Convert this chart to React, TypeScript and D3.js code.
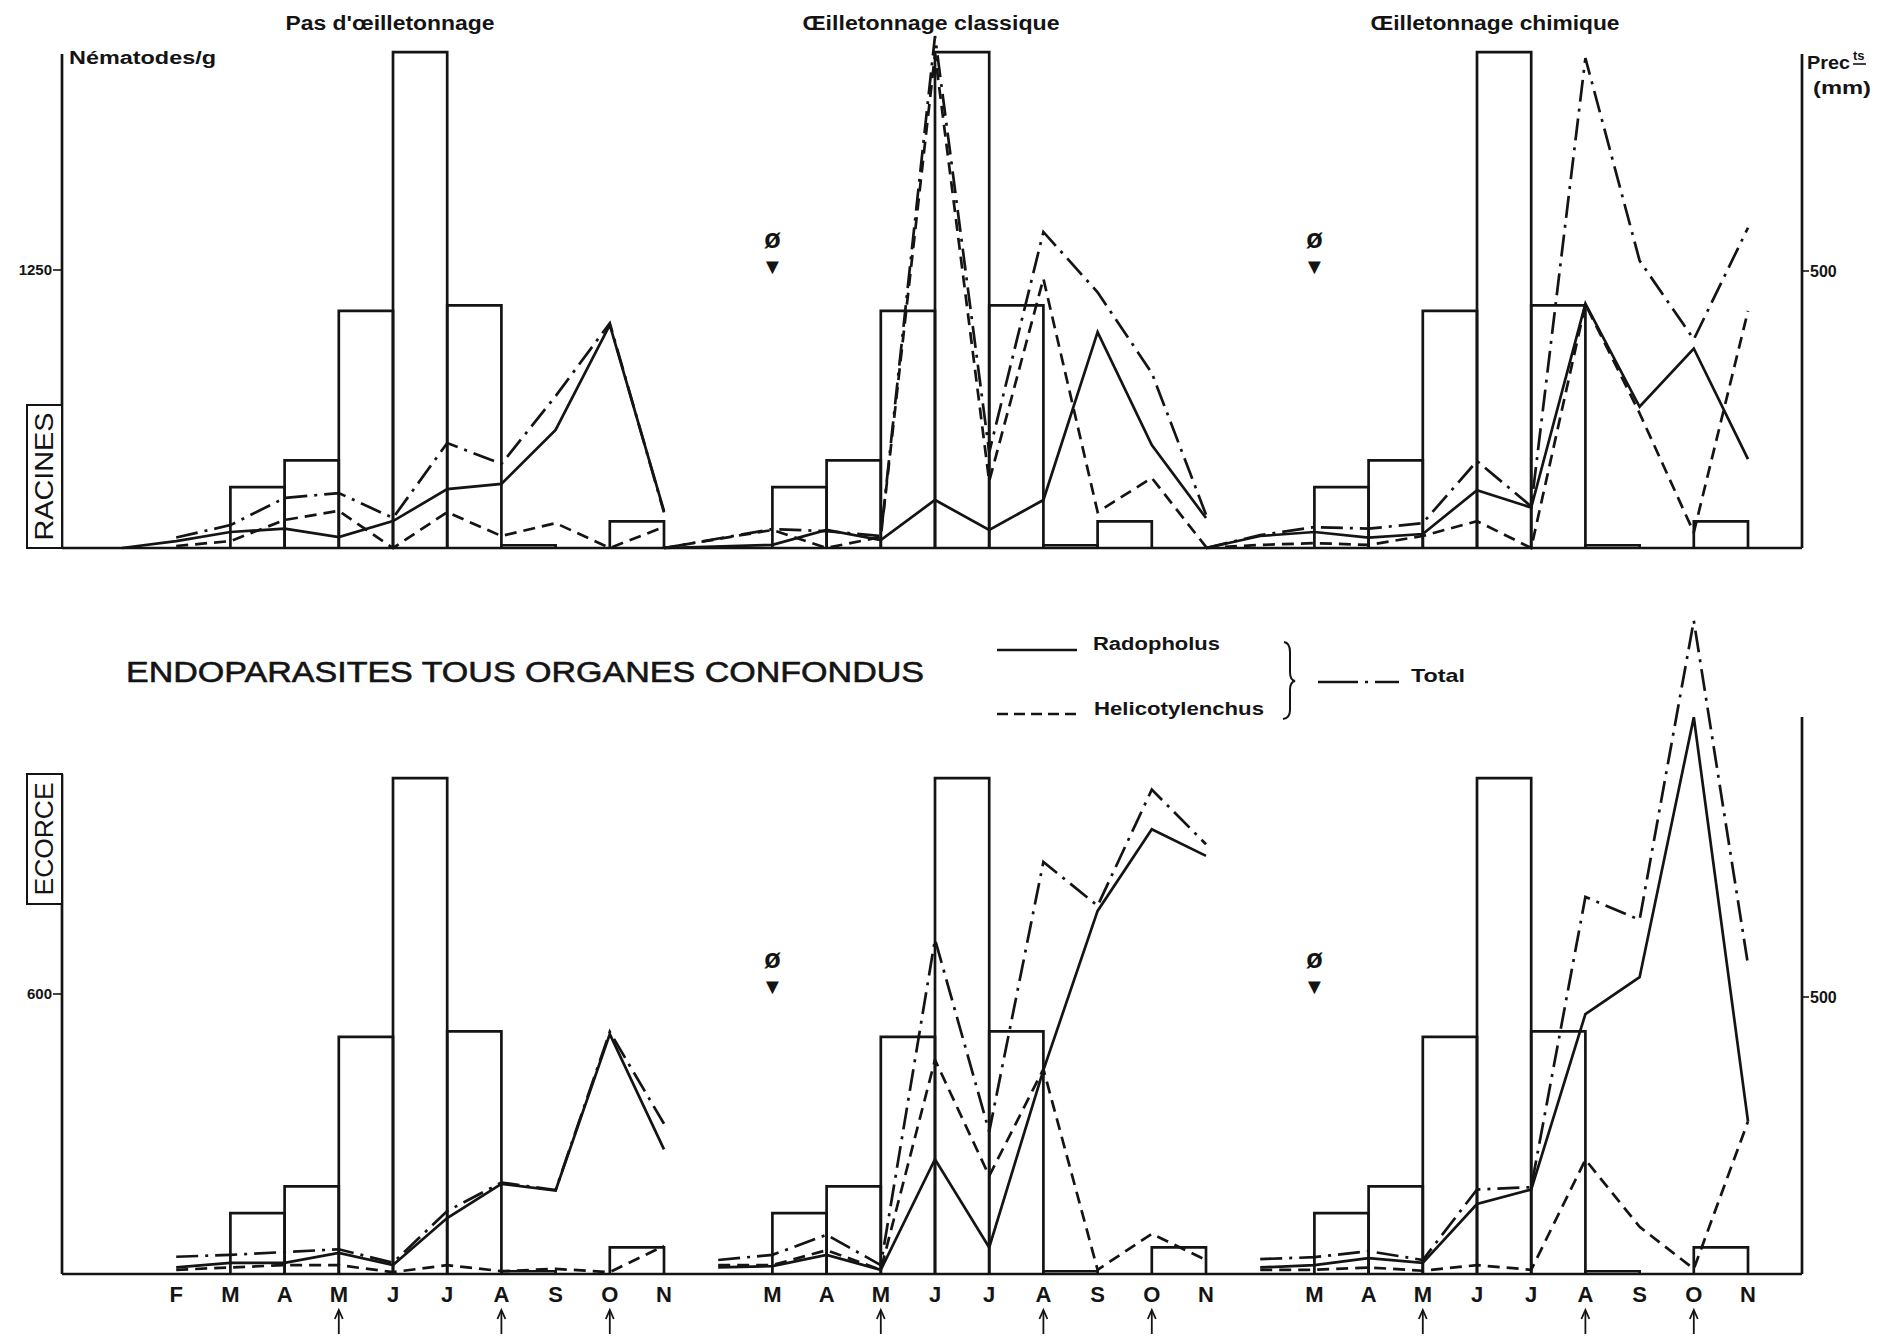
import React from 'react';
import * as d3 from 'd3';

// ---------- DATA ----------
const MONTHS = ['J', 'F', 'M', 'A', 'M', 'J', 'J', 'A', 'S', 'O', 'N'];
const PANEL_TITLES = ["Pas d'œilletonnage", 'Œilletonnage classique', 'Œilletonnage chimique'];
const FIRST_LABEL = [1, 2, 2];
const ARROW_MONTHS = [4, 7, 9];
const MARKED_PANELS = [1, 2]; // panels with the ø ▼ marker (above month M)

// precipitation (mm), bar i spans month i -> month i+1
const PRECIP_MM = [null, null, 110, 158, 428, 895, 438, 5, 0, 48];
const PRECIP_MM_CLASSIQUE_RACINES = [null, null, 110, 158, 428, 895, 438, 5, 48, 0];

// RACINES (Nématodes/g)
const RAC_RADO_PAS = [0, 31, 72, 87, 49, 121, 265, 288, 531, 1003, 166];
const RAC_HELI_PAS = [null, 9, 31, 126, 167, 0, 161, 54, 112, 0, 95];
const RAC_TOT_PAS = [null, 47, 103, 225, 247, 135, 472, 378, 683, 1011, 160];

const RAC_RADO_CLA = [0, null, 14, 81, 36, 216, 81, 216, 971, 463, 135];
const RAC_HELI_CLA = [0, null, 81, 0, 50, 2220, 300, 1211, 162, 315, 5];
const RAC_TOT_CLA = [0, null, 85, 76, 54, 2302, 430, 1421, 1150, 787, 150];

const RAC_RADO_CHI = [0, 54, 72, 47, 63, 260, 182, 1099, 635, 897, 400];
const RAC_HELI_CHI = [0, 14, 22, 14, 54, 121, 0, 1096, 606, 70, 1066];
const RAC_TOT_CHI = [0, 58, 94, 87, 112, 391, 187, 2203, 1292, 938, 1440];

// ECORCE (Nématodes/g)
const ECO_RADO_PAS = [null, 14, 24, 24, 45, 19, 120, 193, 179, 514, 267];
const ECO_HELI_PAS = [null, 9, 14, 19, 19, 4, 19, 6, 11, 4, 60];
const ECO_TOT_PAS = [null, 37, 41, 47, 53, 24, 135, 196, 180, 519, 322];

const ECO_RADO_CLA = [null, 14, 17, 41, 9, 246, 57, 437, 778, 953, 896];
const ECO_HELI_CLA = [null, 19, 19, 51, 9, 459, 210, 439, 9, 86, 30];
const ECO_TOT_CLA = [null, 30, 41, 84, 19, 717, 305, 883, 789, 1038, 921];

const ECO_RADO_CHI = [null, 14, 19, 34, 24, 150, 181, 557, 636, 1193, 327];
const ECO_HELI_CHI = [null, 9, 9, 14, 7, 19, 9, 245, 101, 11, 327];
const ECO_TOT_CHI = [null, 32, 36, 49, 30, 181, 186, 808, 759, 1400, 663];

const LEFT_TICK_TOP = [1250];
const LEFT_TICK_BOT = [600];
const RIGHT_TICK = [500];

const LEGEND_LABELS = ['Radopholus', 'Helicotylenchus', 'Total'];
const MAIN_TITLE = 'ENDOPARASITES TOUS ORGANES CONFONDUS';

// ---------- LAYOUT ----------
const W = 1888;
const H = 1339;
const INK = '#141414';
const FONT = '"Liberation Sans", Arial, Helvetica, sans-serif';
const SW = 2.7;
const DASH = '12,7';
const DASHDOT = '22,7,3,7';

const AXIS_L = 62;
const AXIS_R = 1802;
const TOP_BASE = 548;
const BOT_BASE = 1274;

const x = d3.scaleLinear().domain([0, 30]).range([122, 1748]);
const slot = (p: number, i: number) => x(p * 10 + i);

const yTop = d3.scaleLinear().domain([0, 1250]).range([TOP_BASE, 270]);
const yBot = d3.scaleLinear().domain([0, 600]).range([BOT_BASE, 994]);
const pTop = d3.scaleLinear().domain([0, 500]).range([TOP_BASE, TOP_BASE - 277]);
const pBot = d3.scaleLinear().domain([0, 500]).range([BOT_BASE, BOT_BASE - 277]);

type Series = (number | null)[];

function SeriesPath({ p, values, y, dash }: { p: number; values: Series; y: d3.ScaleLinear<number, number>; dash?: string }) {
  const pts = values
    .map((v, i) => ({ i, v }))
    .filter((d) => d.v !== null) as { i: number; v: number }[];
  const line = d3
    .line<{ i: number; v: number }>()
    .x((d) => slot(p, d.i))
    .y((d) => y(d.v));
  return (
    <path
      d={line(pts) || ''}
      fill="none"
      stroke={INK}
      strokeWidth={SW}
      strokeDasharray={dash}
      strokeLinejoin="miter"
      strokeLinecap="butt"
    />
  );
}

function Bars({ p, data, y, base }: { p: number; data: (number | null)[]; y: d3.ScaleLinear<number, number>; base: number }) {
  return (
    <g>
      {data.map((v, i) => {
        if (v === null || v <= 0) return null;
        const x0 = slot(p, i);
        const x1 = slot(p, i + 1);
        const yt = y(v);
        return (
          <path
            key={i}
            d={`M${x0},${base} L${x0},${yt} L${x1},${yt} L${x1},${base}`}
            fill="none"
            stroke={INK}
            strokeWidth={SW}
          />
        );
      })}
    </g>
  );
}

const RAC = [
  [RAC_RADO_PAS, RAC_HELI_PAS, RAC_TOT_PAS],
  [RAC_RADO_CLA, RAC_HELI_CLA, RAC_TOT_CLA],
  [RAC_RADO_CHI, RAC_HELI_CHI, RAC_TOT_CHI],
];
const ECO = [
  [ECO_RADO_PAS, ECO_HELI_PAS, ECO_TOT_PAS],
  [ECO_RADO_CLA, ECO_HELI_CLA, ECO_TOT_CLA],
  [ECO_RADO_CHI, ECO_HELI_CHI, ECO_TOT_CHI],
];
const PRECIP_TOP = [PRECIP_MM, PRECIP_MM_CLASSIQUE_RACINES, PRECIP_MM];
const DASHES = [undefined, DASH, DASHDOT];

export default function App() {
  const titleCenters = [390, 931, 1495];
  const titleWidths = [209, 257, 249];
  return (
    <svg
      width={W}
      height={H}
      viewBox={`0 0 ${W} ${H}`}
      style={{ position: 'absolute', left: 0, top: 0, background: '#fff' }}
      fontFamily={FONT}
    >
      <rect x={0} y={0} width={W} height={H} fill="#fff" />

      {/* Panel titles */}
      {PANEL_TITLES.map((t, i) => (
        <text
          key={t}
          x={titleCenters[i] - titleWidths[i] / 2}
          y={30}
          fontSize={20}
          fontWeight="bold"
          fill={INK}
          textLength={titleWidths[i]}
          lengthAdjust="spacingAndGlyphs"
        >
          {t}
        </text>
      ))}

      {/* ---------- TOP (RACINES) ---------- */}
      <g>
        <line x1={AXIS_L} x2={AXIS_L} y1={54} y2={TOP_BASE} stroke={INK} strokeWidth={SW} />
        <line x1={AXIS_L} x2={AXIS_R} y1={TOP_BASE} y2={TOP_BASE} stroke={INK} strokeWidth={SW} />
        <line x1={AXIS_R} x2={AXIS_R} y1={54} y2={TOP_BASE} stroke={INK} strokeWidth={SW} />
        {LEFT_TICK_TOP.map((t) => (
          <g key={t}>
            <line x1={AXIS_L - 9} x2={AXIS_L} y1={yTop(t)} y2={yTop(t)} stroke={INK} strokeWidth={1.6} />
            <text x={AXIS_L - 10} y={yTop(t) + 5} textAnchor="end" fontSize={15} fontWeight="bold" fill={INK}>
              {t}
            </text>
          </g>
        ))}
        {RIGHT_TICK.map((t) => (
          <g key={t}>
            <line x1={AXIS_R} x2={AXIS_R + 7} y1={pTop(t)} y2={pTop(t)} stroke={INK} strokeWidth={1.6} />
            <text x={AXIS_R + 8} y={pTop(t) + 6} fontSize={16} fontWeight="bold" fill={INK}>
              {t}
            </text>
          </g>
        ))}
        <text x={69} y={64} fontSize={18} fontWeight="bold" fill={INK} textLength={147} lengthAdjust="spacingAndGlyphs">
          Nématodes/g
        </text>
        <text x={1807} y={69} fontSize={19} fontWeight="bold" fill={INK} textLength={43} lengthAdjust="spacingAndGlyphs">
          Prec
        </text>
        <text x={1853} y={60} fontSize={13} fontWeight="bold" fill={INK}>
          ts
        </text>
        <line x1={1853} x2={1866} y1={64} y2={64} stroke={INK} strokeWidth={1.6} />
        <text x={1813} y={94} fontSize={18} fontWeight="bold" fill={INK} textLength={58} lengthAdjust="spacingAndGlyphs">
          (mm)
        </text>

        <rect x={27} y={405} width={35} height={TOP_BASE - 405} fill="#fff" stroke={INK} strokeWidth={2} />
        <text
          transform={`translate(53,${(405 + TOP_BASE) / 2}) rotate(-90)`}
          textAnchor="middle"
          fontSize={25}
          fill={INK}
          textLength={128}
          lengthAdjust="spacingAndGlyphs"
        >
          RACINES
        </text>

        {[0, 1, 2].map((p) => (
          <g key={p}>
            <Bars p={p} data={PRECIP_TOP[p]} y={pTop} base={TOP_BASE} />
            {RAC[p].map((s, k) => (
              <SeriesPath key={k} p={p} values={s} y={yTop} dash={DASHES[k]} />
            ))}
          </g>
        ))}
      </g>

      {/* ---------- MIDDLE: title + legend ---------- */}
      <text
        x={126}
        y={682}
        fontSize={30}
        fill={INK}
        stroke={INK}
        strokeWidth={0.6}
        textLength={798}
        lengthAdjust="spacingAndGlyphs"
      >
        {MAIN_TITLE}
      </text>
      <line x1={997} x2={1077} y1={650} y2={650} stroke={INK} strokeWidth={SW} />
      <text x={1093} y={650} fontSize={18} fontWeight="bold" fill={INK} textLength={127} lengthAdjust="spacingAndGlyphs">
        {LEGEND_LABELS[0]}
      </text>
      <line x1={997} x2={1077} y1={714} y2={714} stroke={INK} strokeWidth={SW} strokeDasharray="11,6" />
      <text x={1094} y={715} fontSize={18} fontWeight="bold" fill={INK} textLength={170} lengthAdjust="spacingAndGlyphs">
        {LEGEND_LABELS[1]}
      </text>
      <path
        d="M1284,642 Q1290,643 1290,652 L1290,672 Q1290,680 1295,681 Q1290,682 1290,690 L1290,710 Q1290,718 1283,719"
        fill="none"
        stroke={INK}
        strokeWidth={2}
      />
      <line x1={1318} x2={1399} y1={682} y2={682} stroke={INK} strokeWidth={SW} strokeDasharray="40,7,3,7,30" />
      <text x={1411} y={682} fontSize={19} fontWeight="bold" fill={INK} textLength={54} lengthAdjust="spacingAndGlyphs">
        {LEGEND_LABELS[2]}
      </text>

      {/* ---------- BOTTOM (ECORCE) ---------- */}
      <g>
        <line x1={AXIS_L} x2={AXIS_L} y1={774} y2={BOT_BASE} stroke={INK} strokeWidth={SW} />
        <line x1={AXIS_L} x2={AXIS_R} y1={BOT_BASE} y2={BOT_BASE} stroke={INK} strokeWidth={SW} />
        <line x1={AXIS_R} x2={AXIS_R} y1={717} y2={BOT_BASE} stroke={INK} strokeWidth={SW} />
        {LEFT_TICK_BOT.map((t) => (
          <g key={t}>
            <line x1={AXIS_L - 9} x2={AXIS_L} y1={yBot(t)} y2={yBot(t)} stroke={INK} strokeWidth={1.6} />
            <text x={AXIS_L - 10} y={yBot(t) + 5} textAnchor="end" fontSize={15} fontWeight="bold" fill={INK}>
              {t}
            </text>
          </g>
        ))}
        {RIGHT_TICK.map((t) => (
          <g key={t}>
            <line x1={AXIS_R} x2={AXIS_R + 7} y1={pBot(t)} y2={pBot(t)} stroke={INK} strokeWidth={1.6} />
            <text x={AXIS_R + 8} y={pBot(t) + 6} fontSize={16} fontWeight="bold" fill={INK}>
              {t}
            </text>
          </g>
        ))}

        <rect x={27} y={774} width={35} height={130} fill="#fff" stroke={INK} strokeWidth={2} />
        <text
          transform={`translate(53,${774 + 65}) rotate(-90)`}
          textAnchor="middle"
          fontSize={25}
          fill={INK}
          textLength={113}
          lengthAdjust="spacingAndGlyphs"
        >
          ECORCE
        </text>

        {[0, 1, 2].map((p) => (
          <g key={p}>
            <Bars p={p} data={PRECIP_MM} y={pBot} base={BOT_BASE} />
            {ECO[p].map((s, k) => (
              <SeriesPath key={k} p={p} values={s} y={yBot} dash={DASHES[k]} />
            ))}
          </g>
        ))}
      </g>

      {/* ø ▼ markers */}
      {MARKED_PANELS.map((p) =>
        [239, 959].map((yy) => (
          <g key={`${p}-${yy}`}>
            <text x={slot(p, 2)} y={yy + 9} textAnchor="middle" fontSize={27} fontWeight="bold" fill={INK}>
              ø
            </text>
            <text x={slot(p, 2)} y={yy + 35} textAnchor="middle" fontSize={22} fill={INK}>
              ▼
            </text>
          </g>
        ))
      )}

      {/* month labels + arrows */}
      {[0, 1, 2].map((p) => (
        <g key={p}>
          {MONTHS.map((m, i) =>
            i >= FIRST_LABEL[p] ? (
              <text
                key={i}
                x={slot(p, i)}
                y={1302}
                textAnchor="middle"
                fontSize={22}
                fontWeight="bold"
                fill={INK}
              >
                {m}
              </text>
            ) : null
          )}
          {ARROW_MONTHS.map((i) => {
            const ax = slot(p, i);
            return (
              <g key={i}>
                <line x1={ax} x2={ax} y1={1334} y2={1312} stroke={INK} strokeWidth={1.8} />
                <path d={`M${ax - 4},${1319} L${ax},${1310} L${ax + 4},${1319}`} fill="none" stroke={INK} strokeWidth={1.8} />
              </g>
            );
          })}
        </g>
      ))}
    </svg>
  );
}
